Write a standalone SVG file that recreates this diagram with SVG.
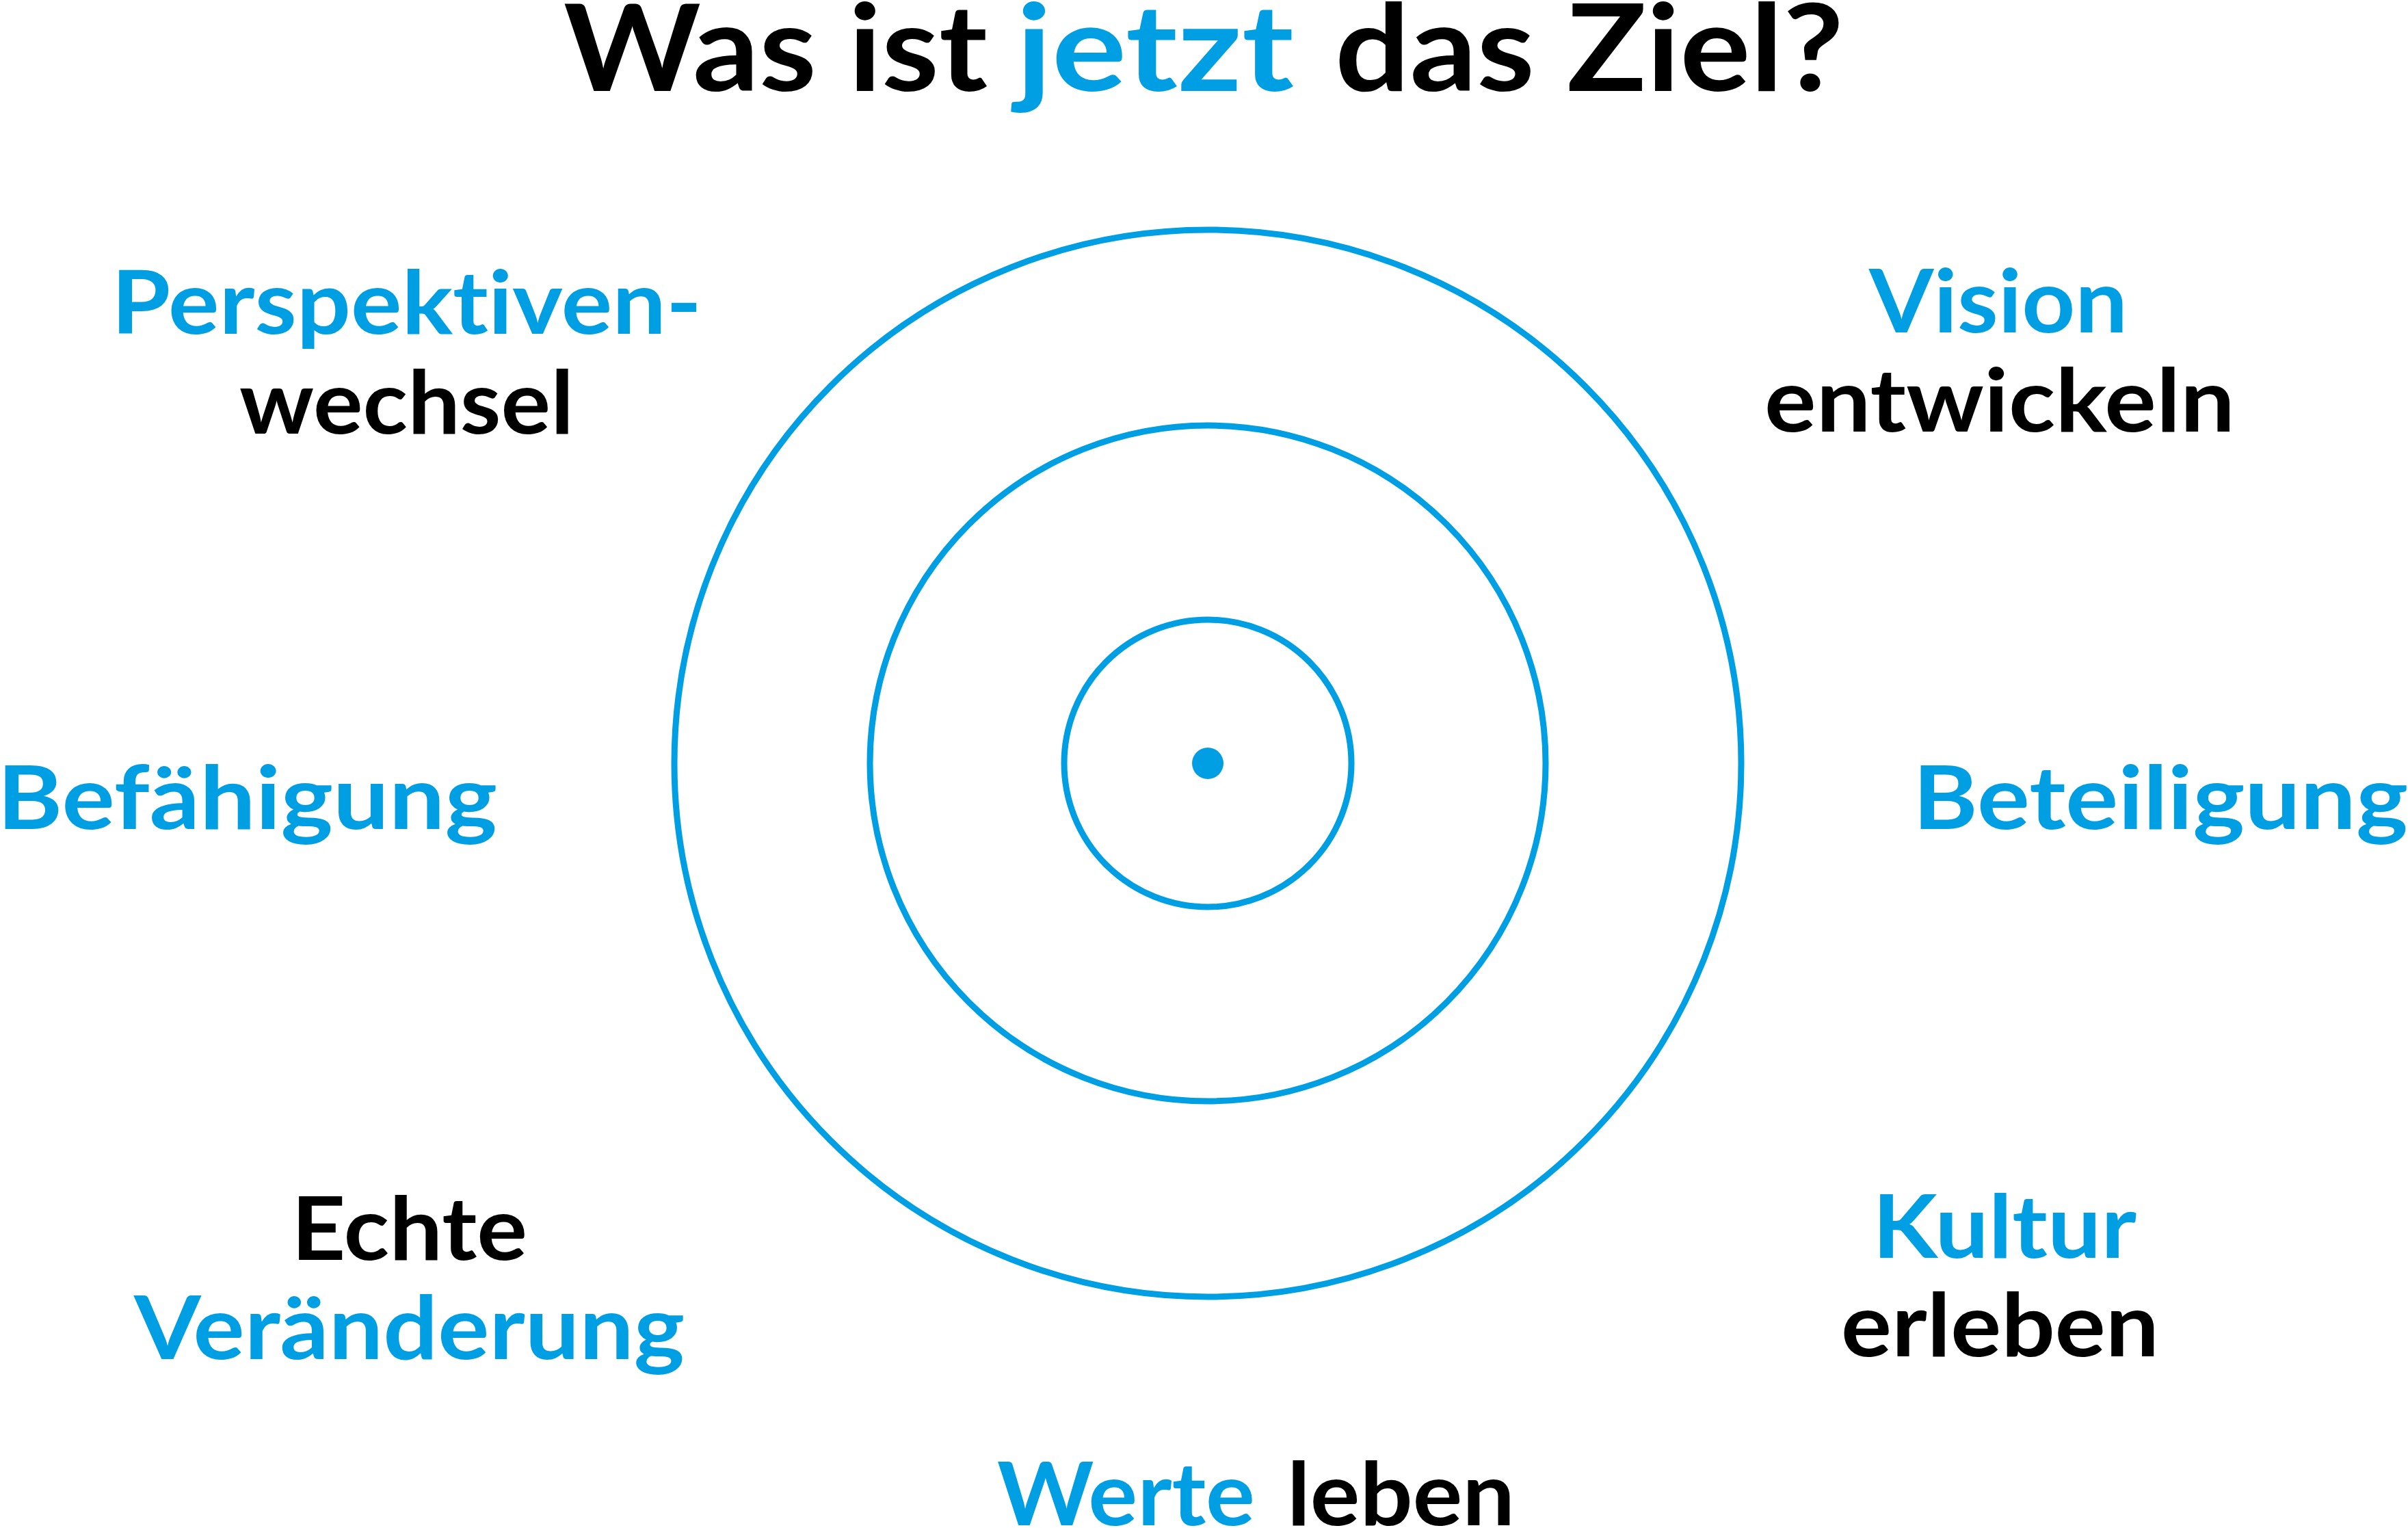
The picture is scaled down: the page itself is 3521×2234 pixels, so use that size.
<svg xmlns="http://www.w3.org/2000/svg" width="3521" height="2234" viewBox="0 0 3521 2234">
<style>
text { font-family: Lato, "Open Sans", "Liberation Sans", sans-serif; font-weight: 700; font-variant-ligatures: none; font-feature-settings: "liga" 0, "dlig" 0; }
.t { font-size: 176px; }
.l { font-size: 128px; }
.b { fill: #009FE3; }
.k { fill: #000000; }
.ring { fill: none; stroke: #009FE3; stroke-width: 9; }
</style>
<rect width="3521" height="2234" fill="#ffffff"/>
<g id="title">
<text class="t k" x="824" y="133" textLength="620" lengthAdjust="spacingAndGlyphs">Was ist</text>
<text class="t b" x="1486" y="133" textLength="406" lengthAdjust="spacingAndGlyphs">jetzt</text>
<text class="t k" x="1952" y="133" textLength="744" lengthAdjust="spacingAndGlyphs">das Ziel?</text>
</g>
<g id="target">
<circle class="ring" cx="1766" cy="1116" r="780"/>
<circle class="ring" cx="1766" cy="1116" r="494"/>
<circle class="ring" cx="1766" cy="1116" r="210"/>
<circle cx="1766" cy="1116" r="23" fill="#009FE3"/>
</g>
<g id="perspektivenwechsel">
<text class="l b" x="163" y="488" textLength="863" lengthAdjust="spacingAndGlyphs">Perspektiven-</text>
<text class="l k" x="350" y="634" textLength="489" lengthAdjust="spacingAndGlyphs">wechsel</text>
</g>
<g id="vision">
<text class="l b" x="2733" y="486" textLength="378" lengthAdjust="spacingAndGlyphs">Vision</text>
<text class="l k" x="2580" y="631" textLength="688" lengthAdjust="spacingAndGlyphs">entwickeln</text>
</g>
<g id="befaehigung">
<text class="l b" x="-4" y="1212" textLength="731" lengthAdjust="spacingAndGlyphs">Befähigung</text>
</g>
<g id="beteiligung">
<text class="l b" x="2797" y="1212" textLength="724" lengthAdjust="spacingAndGlyphs">Beteiligung</text>
</g>
<g id="veraenderung">
<text class="l k" x="426" y="1842" textLength="345" lengthAdjust="spacingAndGlyphs">Echte</text>
<text class="l b" x="196" y="1987" textLength="805" lengthAdjust="spacingAndGlyphs">Veränderung</text>
</g>
<g id="kultur">
<text class="l b" x="2738" y="1839" textLength="386" lengthAdjust="spacingAndGlyphs">Kultur</text>
<text class="l k" x="2692" y="1983" textLength="465" lengthAdjust="spacingAndGlyphs">erleben</text>
</g>
<g id="werte">
<text class="l b" x="1458" y="2230" textLength="377" lengthAdjust="spacingAndGlyphs">Werte</text>
<text class="l k" x="1882" y="2230" textLength="333" lengthAdjust="spacingAndGlyphs">leben</text>
</g>
<g id="connectors"></g>
</svg>
